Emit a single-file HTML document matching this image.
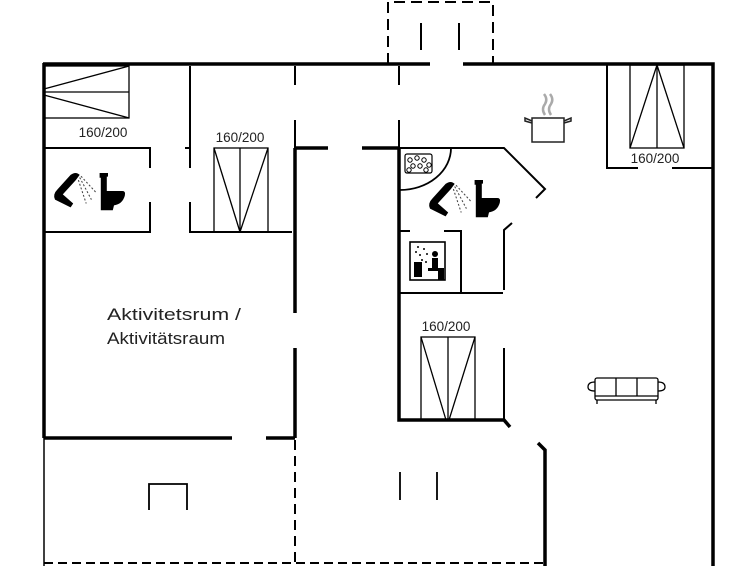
<!DOCTYPE html>
<html><head><meta charset="utf-8"><style>
html,body{margin:0;padding:0;background:#fff;width:755px;height:566px;overflow:hidden}
svg{display:block}
text{font-family:"Liberation Sans",sans-serif;fill:#222}
</style></head><body>
<svg width="755" height="566" viewBox="0 0 755 566" xmlns="http://www.w3.org/2000/svg">
<defs>
<g id="shower">
<path d="M0,22 Q-2,18 2,14 L12,3 Q16,0 19,3 L16,7 L6,18 L14,25 L12,28 Z" fill="#000"/>
<g stroke="#444" stroke-width="0.8" stroke-dasharray="1.5,1.5"><line x1="19" y1="5" x2="28" y2="22"/><line x1="20" y1="4" x2="32" y2="17"/><line x1="18" y1="7" x2="24" y2="25"/></g>
</g>
<g id="toilet">
<path d="M3,0 h7 v3 h-1 v12 h13 q3,0 2,4 q-2,7 -9,8 l-1,4 h-10 v-27 h-1z" fill="#000"/>
</g>
</defs>
<g fill="none" stroke="#000" stroke-linecap="butt">
<path d="M43,64 H430 M463,64 H713 V566" stroke-width="3.5"/>
<path d="M44,63 V438" stroke-width="3.5"/>
<path d="M44,438 V566" stroke-width="1.5"/>
<line x1="44" y1="563" x2="545" y2="563" stroke-width="2" stroke-dasharray="9,5"/>
<path d="M388,64 V2 H493 V64" stroke-width="2" stroke-dasharray="11,6"/>
<path d="M421,23 V50 M459,23 V50" stroke-width="2"/>
<g stroke-width="1.3"><rect x="44" y="66" width="85" height="52"/><line x1="44" y1="92" x2="129" y2="92"/><line x1="44" y1="89" x2="129" y2="66"/><line x1="44" y1="95" x2="129" y2="118"/></g>
<path d="M44,148 H150 V168 M150,202 V232 H44" stroke-width="2"/>
<path d="M190,66 V168 M185,148 H190 M190,202 V232 H292" stroke-width="2"/>
<g stroke-width="1.3"><rect x="214" y="148" width="54" height="84"/><line x1="240" y1="148" x2="240" y2="232"/><line x1="214" y1="148" x2="240" y2="232"/><line x1="268" y1="148" x2="240" y2="232"/></g>
<path d="M295,66 V85 M295,120 V148" stroke-width="2"/>
<path d="M295,148 V313 M295,348 V438" stroke-width="3.5"/>
<path d="M295,148 H328 M362,148 H400" stroke-width="3.5"/>
<path d="M44,438 H232 M266,438 H295" stroke-width="3.5"/>
<line x1="295" y1="440" x2="295" y2="566" stroke-width="2" stroke-dasharray="10,6"/>
<path d="M399,66 V85 M399,120 V148" stroke-width="2"/>
<path d="M399,148 V420 H504 L510,427" stroke-width="3.5"/>
<path d="M399,148 H504 L545,189 L536,198" stroke-width="2"/>
<path d="M512,223 L504,230 V290 M504,348 V420" stroke-width="2"/>
<path d="M451,148 A51,42 0 0 1 400,190" stroke-width="1.8"/>
<path d="M400,231 H410 M444,231 H461 V293 M400,293 H503" stroke-width="2"/>
<g stroke-width="1.3"><rect x="421" y="337" width="54" height="83"/><line x1="448" y1="337" x2="448" y2="420"/><line x1="421" y1="337" x2="446" y2="420"/><line x1="475" y1="337" x2="449" y2="420"/></g>
<path d="M607,65 V168 H638 M672,168 H712" stroke-width="2"/>
<g stroke-width="1.3"><rect x="630" y="65" width="54" height="83"/><line x1="657" y1="65" x2="657" y2="148"/><line x1="657" y1="65" x2="630" y2="148"/><line x1="657" y1="65" x2="684" y2="148"/></g>
<path d="M538,443 L545,450 V566" stroke-width="3.5"/>
<path d="M400,472 V500 M437,472 V500" stroke-width="1.8"/>
<path d="M149,510 V484 H187 V510" stroke-width="1.8"/>
<g stroke-width="1.3"><rect x="595" y="378" width="63" height="22" rx="2"/><line x1="616" y1="378" x2="616" y2="396"/><line x1="637" y1="378" x2="637" y2="396"/><line x1="595" y1="396" x2="658" y2="396"/><path d="M595,382 q-7,0 -7,5 q0,4 7,4 M658,382 q7,0 7,5 q0,4 -7,4"/><path d="M597,400 v4 M656,400 v4"/></g>
<g stroke="#222" stroke-width="1.5"><rect x="532" y="118" width="32" height="24"/><path d="M532,121 l-7,-3 v3 l7,2 M564,121 l7,-3 v3 l-7,2"/></g>
<path d="M545,115 q-4,-6 0,-11 q3,-5 -1,-10 M551,115 q-4,-6 0,-11 q3,-5 -1,-10" stroke="#aaa" stroke-width="2.5"/>
<rect x="405" y="154" width="27" height="19" rx="2" stroke-width="1.2"/>
<g stroke-width="1"><circle cx="410" cy="160" r="2.2"/><circle cx="417" cy="158" r="2.2"/><circle cx="424" cy="160" r="2.2"/><circle cx="429" cy="165" r="2.2"/><circle cx="413" cy="166" r="2.2"/><circle cx="420" cy="166" r="2.2"/><circle cx="426" cy="170" r="2.2"/><circle cx="409" cy="170" r="2.2"/></g>
<rect x="410" y="242" width="35" height="38" stroke-width="1.6"/>
</g>
<g fill="#000">
<rect x="414" y="262" width="8" height="15"/><rect x="432" y="258" width="6" height="10"/><circle cx="435" cy="254" r="3"/><rect x="428" y="268" width="14" height="3"/><rect x="438" y="268" width="6" height="12"/>
<circle cx="416" cy="252" r="1"/><circle cx="420" cy="255" r="1"/><circle cx="424" cy="249" r="1"/><circle cx="427" cy="254" r="1"/><circle cx="422" cy="260" r="1"/><circle cx="426" cy="262" r="1"/><circle cx="418" cy="247" r="1"/>
</g>
<use href="#shower" transform="translate(55,171) scale(1.3)"/>
<use href="#toilet" transform="translate(96,173) scale(1.2)"/>
<use href="#shower" transform="translate(430,180) scale(1.3)"/>
<use href="#toilet" transform="translate(471,180) scale(1.2)"/>
<g font-size="13.5" text-anchor="middle">
<text x="103" y="137">160/200</text>
<text x="240" y="142">160/200</text>
<text x="655" y="163">160/200</text>
<text x="446" y="331">160/200</text>
</g>
<g font-size="17">
<text x="107" y="320" textLength="134" lengthAdjust="spacingAndGlyphs">Aktivitetsrum /</text>
<text x="107" y="344" textLength="118" lengthAdjust="spacingAndGlyphs">Aktivitätsraum</text>
</g>
</svg>
</body></html>
